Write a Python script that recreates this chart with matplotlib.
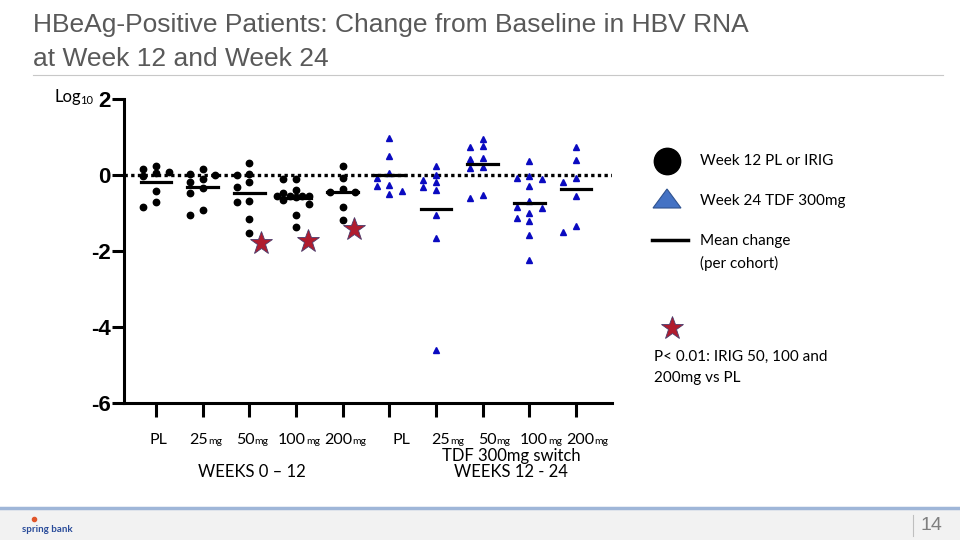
import numpy as np
import matplotlib
matplotlib.use("Agg")
import matplotlib.pyplot as plt
from matplotlib.patches import Polygon, Rectangle
from matplotlib.transforms import blended_transform_factory, offset_copy

plt.rcParams['axes.unicode_minus'] = False

# change from baseline in log10 HBV RNA
pl_w12 = [0.25, 0.16, 0.09, 0.04, -0.02, -0.42, -0.70, -0.84]
irig25_w12 = [0.16, 0.02, 0.00, -0.11, -0.18, -0.35, -0.48, -0.91, -1.06]
irig50_w12 = [0.31, 0.03, 0.00, -0.18, -0.31, -0.68, -0.72, -1.17, -1.52]
irig100_w12 = [-0.11, -0.11, -0.40, -0.48, -0.55, -0.55, -0.55, -0.55,
               -0.59, -0.66, -0.75, -1.06, -1.36]
irig200_w12 = [0.25, -0.09, -0.38, -0.44, -0.44, -0.85, -1.19]
pl_w24 = [0.98, 0.51, 0.04, -0.07, -0.25, -0.28, -0.42, -0.51]
tdf25_w24 = [0.25, 0.00, -0.13, -0.19, -0.31, -0.40, -1.04, -1.67, -4.60]
tdf50_w24 = [0.95, 0.76, 0.73, 0.46, 0.41, 0.22, 0.19, -0.53, -0.60]
tdf100_w24 = [0.37, -0.02, -0.07, -0.11, -0.28, -0.69, -0.84, -0.86, -0.99,
              -1.13, -1.21, -1.57, -2.24]
tdf200_w24 = [0.73, 0.40, -0.09, -0.19, -0.55, -1.35, -1.50]

week12_groups = [pl_w12, irig25_w12, irig50_w12, irig100_w12, irig200_w12]
week24_groups = [pl_w24, tdf25_w24, tdf50_w24, tdf100_w24, tdf200_w24]

dose_numbers = ["PL", "25", "50", "100", "200", "PL", "25", "50", "100", "200"]
dose_units = ["", "mg", "mg", "mg", "mg", "", "mg", "mg", "mg", "mg"]

# significance stars (IRIG 50, 100, 200 vs PL)
star_groups = [3, 4, 5]
star_values = [-1.78, -1.73, -1.42]

y_ticks = [-6, -4, -2, 0, 2]

PX_X = 46.56   # pixels per x unit
PX_Y = 38.0    # pixels per y unit


def swarm(vals, step=0.27, gap=6.5):
    """simple beeswarm: spread points sideways so markers don't overlap"""
    cands = [0, -step, step, -step / 2, step / 2, -1.5 * step, 1.5 * step]
    placed = []
    offs = [0.0] * len(vals)
    for i in sorted(range(len(vals)), key=lambda k: -vals[k]):
        v = vals[i]
        best, best_d = None, -1
        for c in cands:
            d = min([np.hypot((c - po) * PX_X, (v - pv) * PX_Y) for po, pv in placed] + [99])
            if d >= gap:
                best = c
                break
            if d > best_d:
                best, best_d = c, d
        offs[i] = best
        placed.append((best, v))
    return np.array(offs)


fig = plt.figure(figsize=(9.6, 5.4), dpi=100)

# background layer in pixel coordinates for slide decorations
bg = fig.add_axes([0, 0, 1, 1], zorder=0)
bg.set_xlim(0, 960)
bg.set_ylim(540, 0)
bg.axis('off')

title_kw = dict(fontsize=19, color='#595959', family='Liberation Sans', va='baseline')
bg.text(33, 32, "HBeAg-Positive Patients: Change from Baseline in HBV RNA", **title_kw)
bg.text(33, 66, "at Week 12 and Week 24", **title_kw)
bg.plot([33, 943], [75, 75], color='#C8C8C8', lw=0.8)

# footer
bg.add_patch(Rectangle((0, 509), 960, 31, color='#F2F2F2', lw=0))
bg.plot([0, 960], [508, 508], color='#9FB6D8', lw=2.5)
bg.plot([913, 913], [515, 536], color='#BFBFBF', lw=0.8)
bg.text(931, 525, "14", fontsize=14, color='#7F7F7F', ha='center', va='center',
        family='Liberation Sans')
bg.text(22, 529, "spring bank", fontsize=7, color='#2A4C9A', fontweight='bold',
        va='center', family='Lato')
bg.plot(34, 519, 'o', ms=3, color='#E0552A')

# legend
txt = dict(fontsize=11, family='Lato', color='black', va='center')
bg.plot(667, 161, 'o', ms=19, color='black')
bg.text(700, 161, "Week 12 PL or IRIG", **txt)
bg.add_patch(Polygon([(653, 208), (681, 208), (667, 189)], closed=True,
                     facecolor='#4472C4', edgecolor='#2F528F', lw=0.8))
bg.text(700, 201, "Week 24 TDF 300mg", **txt)
bg.plot([652, 688], [240, 240], color='black', lw=2.5)
bg.text(700, 241, "Mean change", **txt)
bg.text(700, 263, "(per cohort)", **txt)
bg.plot(672, 328, '*', ms=17, color='#B01C2E', mec='#4B3B6B', mew=0.6)
bg.text(654, 357, "P< 0.01: IRIG 50, 100 and", **txt)
bg.text(654, 378, "200mg vs PL", **txt)

bg.text(55, 97, "Log", fontsize=12, family='Lato', va='center')
bg.text(80, 101, "10", fontsize=8, family='Lato', va='center')

low_kw = dict(fontsize=12, family='Lato', ha='center', va='center')
bg.text(511, 456, "TDF 300mg switch", **low_kw)
bg.text(252, 472, "WEEKS 0 \u2013 12", **low_kw)
bg.text(511, 472, "WEEKS 12 - 24", **low_kw)

# main chart
ax = fig.add_axes([124 / 960, 1 - 403 / 540, (612 - 124) / 960, (403 - 99) / 540], zorder=1)
ax.set_facecolor('none')
ax.set_xlim(1 - 32 / PX_X, 10 + 36 / PX_X)
ax.set_ylim(-6, 2)

ax.axhline(0, color='black', lw=2.4, ls=(0, (1, 1)), zorder=1)

for i, vals in enumerate(week12_groups):
    x = i + 1
    ax.plot(x + swarm(vals), vals, 'o', ms=4.6, color='black', zorder=3)
    m = np.mean(vals)
    ax.plot([x - 0.33, x + 0.33], [m, m], color='black', lw=2.3, zorder=4)

for i, vals in enumerate(week24_groups):
    x = i + 6
    ax.plot(x + swarm(vals, gap=6.5), vals, '^', ms=4.5, color='#0A0AC0', zorder=3)
    m = np.mean(vals)
    ax.plot([x - 0.33, x + 0.33], [m, m], color='black', lw=2.3, zorder=4)

ax.plot(np.array(star_groups) + 0.25, star_values, '*', ms=17, color='#B01C2E',
        mec='#4B3B6B', mew=0.6, zorder=5)

for s in ['top', 'right']:
    ax.spines[s].set_visible(False)
for s in ['left', 'bottom']:
    ax.spines[s].set_linewidth(2.2)

ax.set_yticks(y_ticks)
ax.set_yticklabels([str(t) for t in y_ticks], fontsize=16, fontweight='bold',
                   family='Liberation Sans')
ax.tick_params(axis='y', length=8.5, width=2.2, pad=1)
ax.set_xticks(range(1, 11))
ax.set_xticklabels([])
ax.tick_params(axis='x', length=10, width=2.2)

# dose labels with a small "mg" after the number
trans = blended_transform_factory(ax.transData, ax.transAxes)
renderer = fig.canvas.get_renderer()
for i, (num, unit) in enumerate(zip(dose_numbers, dose_units)):
    x = i + 1 + (0.06 if i < 5 else 0.25)
    tn = ax.text(x, -0.135, num, transform=trans, fontsize=11.5, family='Lato', va='baseline')
    tm = ax.text(x, -0.135, unit, transform=trans, fontsize=7.5, family='Lato', va='baseline')
    wn = tn.get_window_extent(renderer).width
    wm = tm.get_window_extent(renderer).width if unit else 0
    tn.set_transform(offset_copy(trans, fig=fig, x=-(wn + wm) / 2, y=0, units='dots'))
    tm.set_transform(offset_copy(trans, fig=fig, x=wn - (wn + wm) / 2, y=0, units='dots'))

fig.savefig("out.png", dpi=100)
